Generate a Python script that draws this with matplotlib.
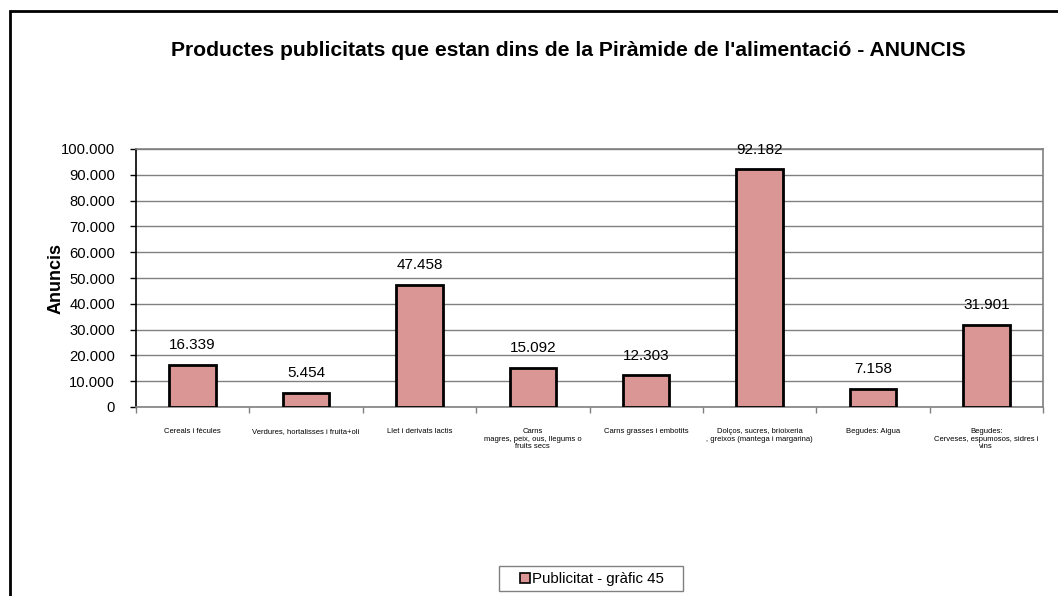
import matplotlib
matplotlib.use("Agg")
import matplotlib.pyplot as plt
from matplotlib.patches import Rectangle, Patch
from matplotlib.ticker import FuncFormatter, FixedLocator

categories = ["Cereals i fècules",
              "Verdures, hortalisses i fruita+oli",
              "Llet i derivats lactis",
              "Carns\nmagres, peix, ous, llegums o\nfruits secs",
              "Carns grasses i embotits",
              "Dolços, sucres, brioixeria\n, greixos (mantega i margarina)",
              "Begudes: Aigua",
              "Begudes:\nCerveses, espumosos, sidres i\nvins"]
values = [16339, 5454, 47458, 15092, 12303, 92182, 7158, 31901]
value_labels = ["16.339", "5.454", "47.458", "15.092", "12.303", "92.182", "7.158", "31.901"]
series_name = "Publicitat - gràfic 45"
title = "Productes publicitats que estan dins de la Piràmide de l'alimentació - ANUNCIS"
ylabel = "Anuncis"

plt.rcParams['font.family'] = ['Liberation Sans', 'DejaVu Sans']

fig = plt.figure(figsize=(10.58, 5.96), dpi=100)
ax = fig.add_axes([136/1058, 1-407/596, (1043-136)/1058, (407-149)/596])

x = list(range(len(values)))
bar_color = '#D99694'
ax.bar(x, values, width=0.41, color=bar_color, edgecolor='black', linewidth=2, zorder=3)
for xi, v, lab in zip(x, values, value_labels):
    ax.text(xi, v + 4900, lab, ha='center', va='bottom', fontsize=11, zorder=4)

ax.set_xlim(-0.5, len(values) - 0.5)
ax.set_ylim(0, 100000)
ax.set_yticks(range(0, 100001, 10000))
ax.yaxis.set_major_formatter(FuncFormatter(lambda v, p: f"{int(v):,}".replace(",", ".")))
ax.tick_params(axis='y', labelsize=10.6, length=4, width=1, direction='out', colors='black', pad=11)
ax.yaxis.grid(True, color='#808080', linewidth=1, zorder=0)

ax.xaxis.set_major_locator(FixedLocator([i - 0.5 for i in range(len(values) + 1)]))
ax.set_xticklabels([])
ax.xaxis.set_minor_locator(FixedLocator(x))
ax.set_xticklabels(categories, minor=True, fontsize=5.5, linespacing=1.15)
ax.tick_params(axis='x', which='major', length=4, width=1, color='#808080')
ax.tick_params(axis='x', which='minor', length=0, pad=15)

for s in ['top', 'right', 'bottom']:
    ax.spines[s].set_color('#808080')
    ax.spines[s].set_linewidth(1.2)
ax.spines['left'].set_color('black')
ax.spines['left'].set_linewidth(1.2)

ax.set_ylabel(ylabel, fontsize=13, fontweight='bold')
ax.yaxis.set_label_coords(-0.079, 0.5)

fig.text(568/1058, 1 - 51/596, title, ha='center', va='center', fontsize=15.2, fontweight='bold')

# outer chart border (only top and left edges visible)
fig.patches.append(Rectangle((10/1058, -0.2), 1.2, 1.2 - 11/596,
                             transform=fig.transFigure, fill=False,
                             edgecolor='black', linewidth=2))

# legend box
fig.patches.append(Rectangle((499/1058, 1 - 591/596), 184/1058, 25/596,
                             transform=fig.transFigure, fill=True, facecolor='white',
                             edgecolor='#808080', linewidth=1, zorder=1))
leg = fig.legend(handles=[Patch(facecolor=bar_color, edgecolor='black', linewidth=1.2, label=series_name)],
                 loc='center', bbox_to_anchor=(592/1058, 1 - 579/596), fontsize=10.8,
                 frameon=False, handlelength=0.7, handleheight=0.7,
                 handletextpad=0.15, borderpad=0.2)
leg.set_zorder(2)

fig.savefig("out.png", dpi=100)
